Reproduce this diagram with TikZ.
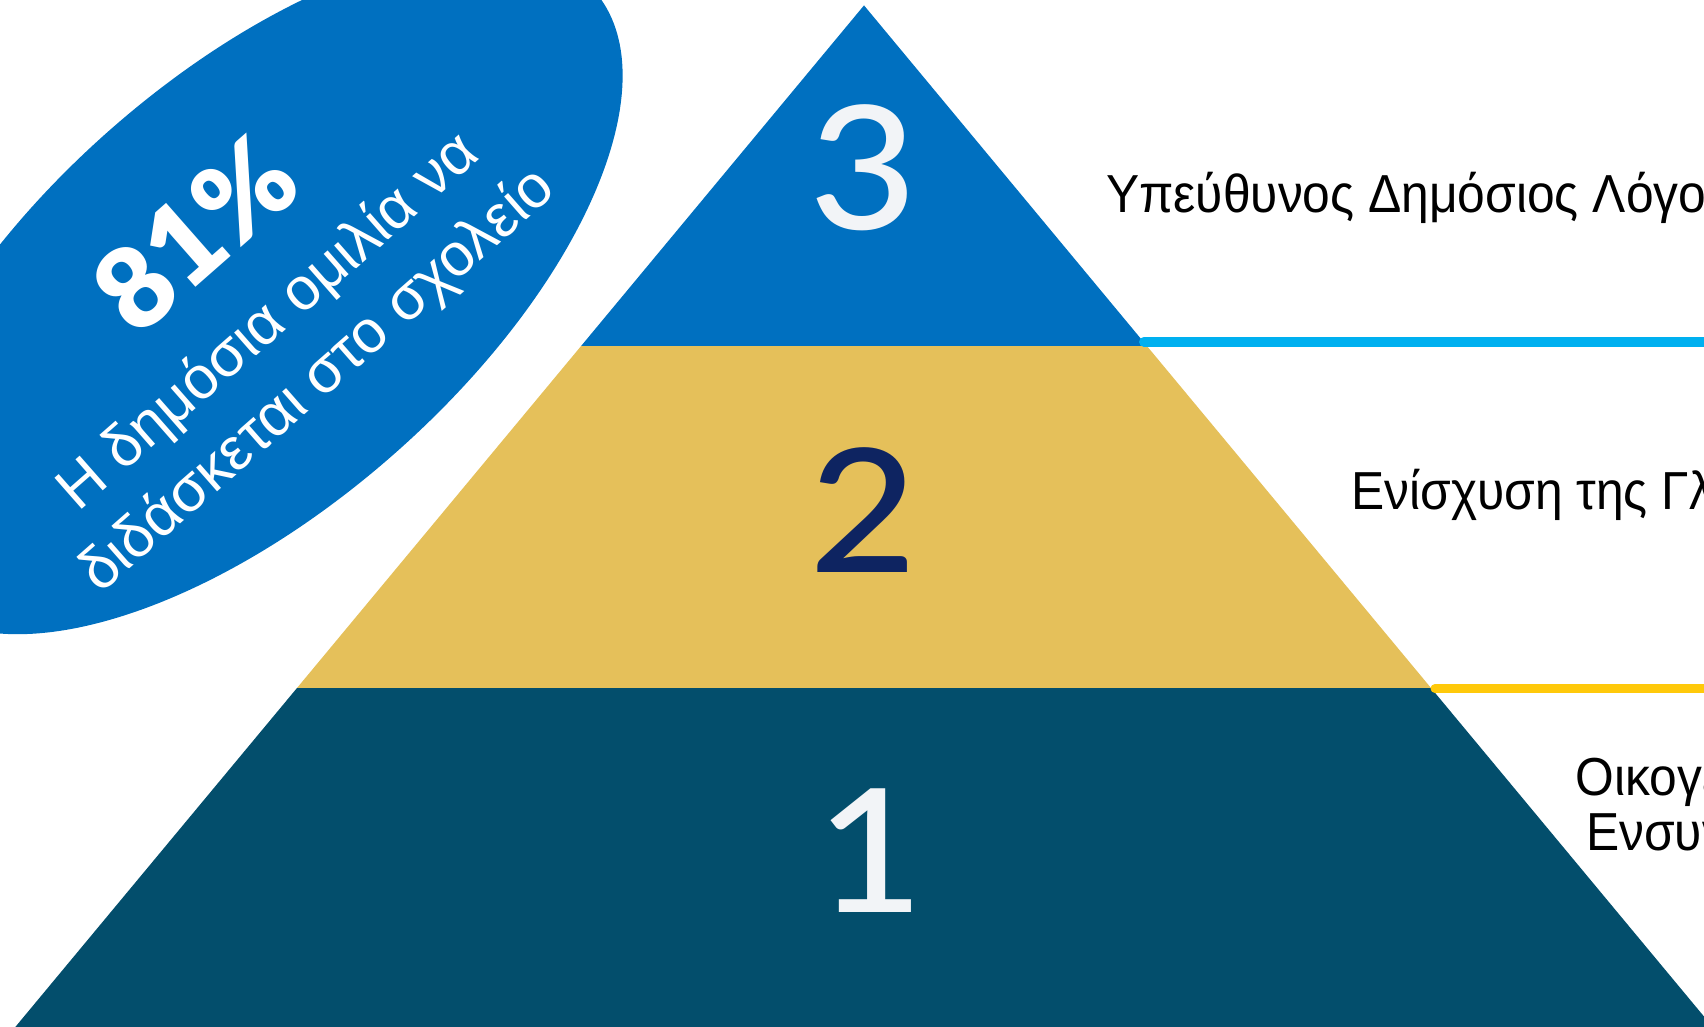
\documentclass[tikz,border=0pt]{standalone}
\usepackage{fontspec}
\setmainfont{Liberation Sans}
\newfontfamily\lsans[FakeStretch=0.93]{Liberation Sans}
\newfontfamily\osans{Liberation Sans}
\newfontfamily\latomed[FakeStretch=1.08]{Lato Medium}
\newfontfamily\latoblack{Lato Black}
\usetikzlibrary{shapes.geometric}
\definecolor{ovalblue}{HTML}{0070C0}
\definecolor{tierblue}{HTML}{0070C0}
\definecolor{tiergold}{HTML}{E5C05A}
\definecolor{tierteal}{HTML}{034E6C}
\definecolor{linecyan}{HTML}{00B0F0}
\definecolor{lineyellow}{HTML}{FFC90A}
\definecolor{digitlight}{HTML}{F2F4F7}
\definecolor{digitnavy}{HTML}{0E2461}
\tikzset{
  digit/.style={inner sep=0pt, font=\latomed\fontsize{172}{172}\selectfont},
  rtext/.style={inner sep=0pt, anchor=base west, text=black, font=\lsans\fontsize{53.5}{55}\selectfont},
  ovaltext/.style={inner sep=0pt, anchor=base, rotate=41.3, text=white, font=\osans\fontsize{60}{62}\selectfont},
  pcttext/.style={inner sep=0pt, anchor=base, rotate=41.3, text=white, font=\latoblack\fontsize{113}{115}\selectfont},
  tierline/.style={line cap=round}
}
\begin{document}
\begin{tikzpicture}[x=1pt,y=-1pt]
\useasboundingbox (0,0) rectangle (1704,1027);
\clip (0,0) rectangle (1704,1027);
% oval
\node[ellipse, fill=ovalblue, inner sep=0pt, minimum width=912, minimum height=431, rotate=41.4] (oval) at (252,292) {};
% pyramid
\coordinate (apex) at (864,5.4);
\coordinate (l1) at (581.1,346); \coordinate (r1) at (1146.9,346);
\coordinate (l2) at (297,688);   \coordinate (r2) at (1431,688);
\coordinate (l3) at (12.8,1030); \coordinate (r3) at (1715.2,1030);
\fill[tierblue] (apex) -- (r1) -- (l1) -- cycle;
\fill[tiergold] (l1) -- (r1) -- (r2) -- (l2) -- cycle;
\fill[tierteal] (l2) -- (r2) -- (r3) -- (l3) -- cycle;
% lines
\coordinate (c3a) at (1144,341.7); \coordinate (c3b) at (1720,341.7);
\coordinate (c2a) at (1435,688.5); \coordinate (c2b) at (1720,688.5);
\draw[tierline, linecyan, line width=10pt] (c3a) -- (c3b);
\draw[tierline, lineyellow, line width=9pt] (c2a) -- (c2b);
% digits
\node[digit, text=digitlight] (d3) at (863,168) {3};
\node[digit, text=digitnavy] (d2) at (863,510) {2};
\node[digit, text=digitlight] (d1) at (870,850.5) {1};
% right texts
\node[rtext] (t3) at (1106,212) {Υπεύθυνος Δημόσιος Λόγος};
\node[rtext] (t2) at (1351,509.5) {Ενίσχυση της Γλώσσας};
\node[rtext] (t1a) at (1575.5,795) {Οικογένεια};
\node[rtext] (t1b) at (1586,850) {Ενσυναίσθηση};
% oval texts
\node[pcttext] (pct) at (222,264.8) {81\%};
\node[ovaltext] (o2) at (280.4,335.2) {Η δημόσια ομιλία να};
\node[ovaltext] (o3) at (328.9,393.8) {διδάσκεται στο σχολείο};
\end{tikzpicture}
\end{document}
